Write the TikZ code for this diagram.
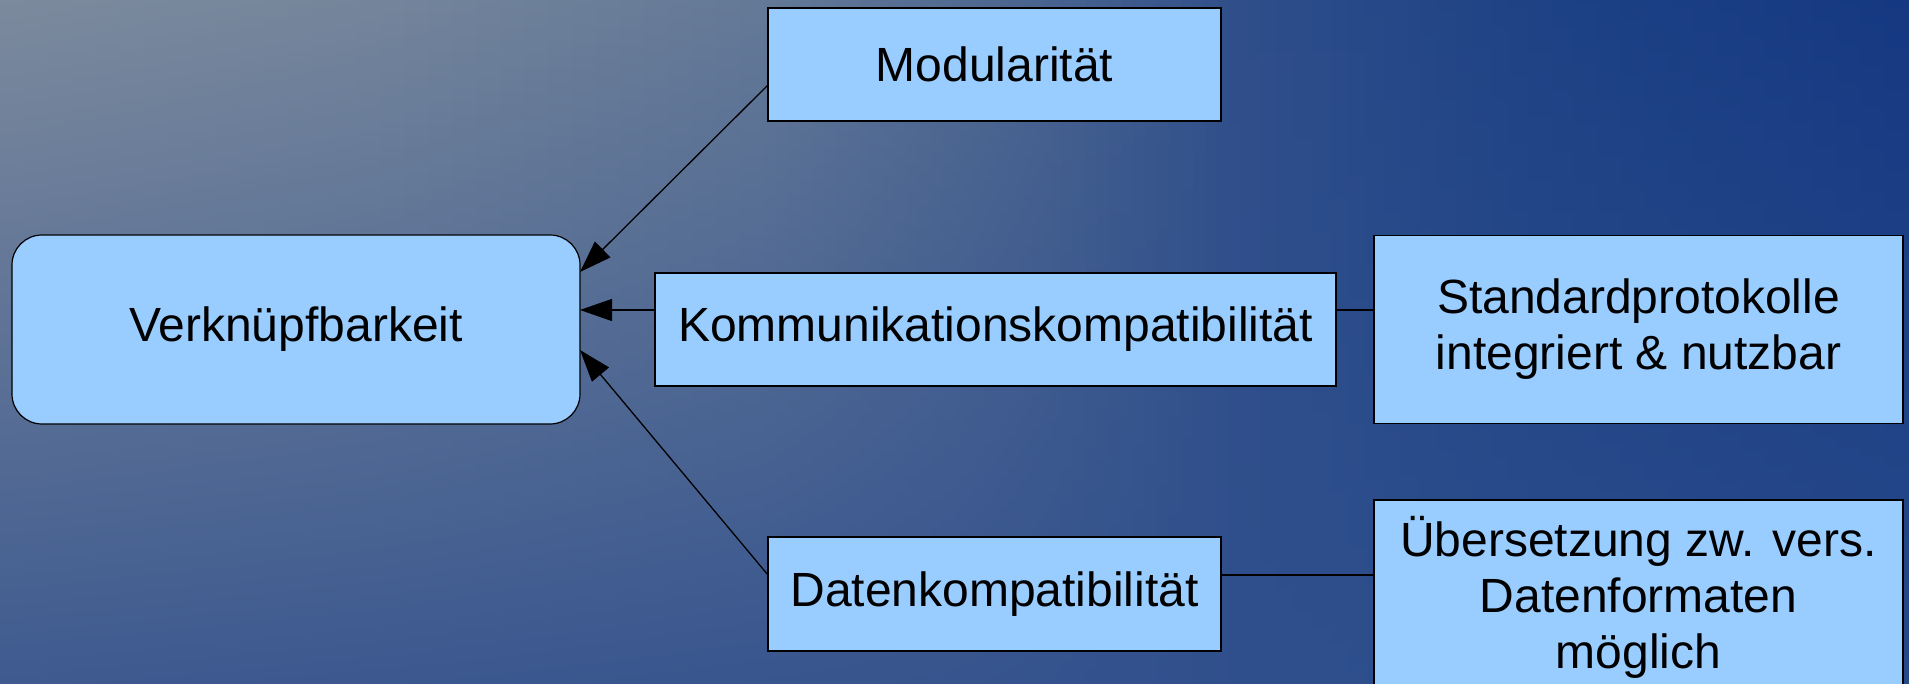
\documentclass[tikz,border=0pt]{standalone}
\usepackage{fontspec}
\setmainfont{Liberation Sans}
\usetikzlibrary{arrows.meta}
\definecolor{tA}{HTML}{7C8A9D}
\definecolor{tB}{HTML}{74859B}
\definecolor{tC}{HTML}{647997}
\definecolor{tD}{HTML}{48638F}
\definecolor{tE}{HTML}{2F4E8A}
\definecolor{tF}{HTML}{1E4285}
\definecolor{tG}{HTML}{153882}
\definecolor{bA}{HTML}{3E5A8F}
\definecolor{bB}{HTML}{37548E}
\definecolor{bC}{HTML}{2F4F8C}
\definecolor{bD}{HTML}{27498A}
\colorlet{bP20}{bB!40!bA}
\colorlet{bP40}{bB!80!bA}
\colorlet{tP50}{tD!66.7!tC}
\colorlet{bP55}{bC!33.3!bB}
\colorlet{bP80}{bD!42.9!bC}
\definecolor{boxfill}{HTML}{99CCFF}
\newcommand\bgseg[6]{%
  \foreach \k in {0,...,15}{%
    \pgfmathsetmacro\pp{(\k+0.5)*100/16}%
    \colorlet{stT}{#4!\pp!#3}%
    \colorlet{stB}{#6!\pp!#5}%
    \pgfmathsetmacro\xa{#1+(#2-#1)*\k/16}%
    \pgfmathsetmacro\xb{#1+(#2-#1)*(\k+1)/16+0.8}%
    \shade[top color=stT, bottom color=stB] (\xa,-684) rectangle (\xb,0);
  }}
\tikzset{
  box/.style={draw=black, line width=1.2pt, fill=boxfill, inner sep=0pt, outer sep=0pt,
    align=center, font=\fontsize{48}{56}\selectfont, text=black},
  conn/.style={draw=black, line width=1.3pt},
  arr/.style={conn, -{Triangle[length=32pt,width=22pt]}},
}
\begin{document}
\begin{tikzpicture}[x=1pt,y=-1pt]
\useasboundingbox (0,0) rectangle (1909,684);
\begin{scope}[y=1pt]
\bgseg{0}{381.8}{tA}{tB}{bA}{bP20}
\bgseg{381.8}{763.6}{tB}{tC}{bP20}{bP40}
\bgseg{763.6}{954.5}{tC}{tP50}{bP40}{bB}
\bgseg{954.5}{1050}{tP50}{tD}{bB}{bP55}
\bgseg{1050}{1240.9}{tD}{tE}{bP55}{bC}
\bgseg{1240.9}{1527.2}{tE}{tF}{bC}{bP80}
\bgseg{1527.2}{1909}{tF}{tG}{bP80}{bD}
\end{scope}

\node[box, rounded corners=30pt, minimum width=568pt, minimum height=189pt] (verk) at (296,329.5) {Verknüpfbarkeit};
\node[box, minimum width=453pt, minimum height=113pt] (modu) at (994.5,64.5) {Modularität};
\node[box, minimum width=681pt, minimum height=113pt] (komm) at (995.5,329.5) {Kommunikationskompatibilität};
\node[box, minimum width=529pt, minimum height=188pt] (std) at (1638.5,329.5) {Standardprotokolle\\integriert \& nutzbar};
\node[box, minimum width=453pt, minimum height=114pt] (daten) at (994.5,594) {Datenkompatibilität};
\node[box, minimum width=529pt, minimum height=194pt] (ueber) at (1638.5,597) {Übersetzung zw. vers.\\Datenformaten\\möglich};

\draw[arr] ([yshift=-20.5pt]modu.west) -- ([yshift=57.5pt]verk.east);
\draw[arr] ([yshift=19.5pt]komm.west) -- ([yshift=19.5pt]verk.east);
\draw[arr] ([yshift=19pt]daten.west) -- ([yshift=-20.5pt]verk.east);
\draw[conn] ([yshift=19.5pt]komm.east) -- ([yshift=19.5pt]std.west);
\draw[conn] ([yshift=19pt]daten.east) -- ([yshift=22pt]ueber.west);
\end{tikzpicture}
\end{document}
